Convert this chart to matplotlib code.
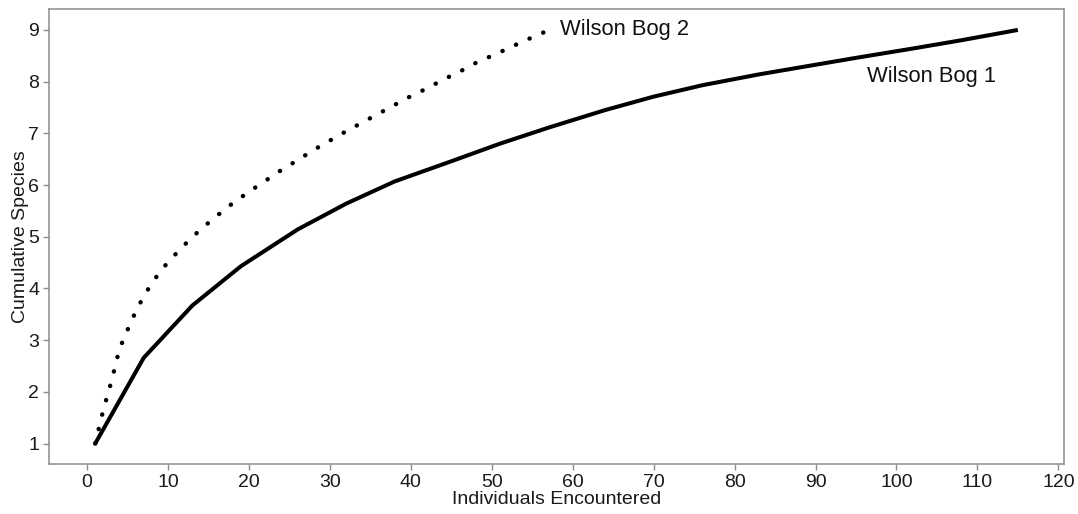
import matplotlib.pyplot as plt

plt.rcParams['font.family'] = ['Liberation Sans', 'DejaVu Sans']

# Wilson Bog 1 (solid)
bog1_n = [1, 7, 13, 19, 26, 32, 38, 45, 51, 57, 64, 70, 76, 83, 89, 95, 102, 108, 115]
bog1_s = [1.0, 2.66, 3.67, 4.43, 5.14, 5.64, 6.07, 6.46, 6.80, 7.11, 7.45, 7.71,
          7.93, 8.14, 8.30, 8.46, 8.64, 8.80, 9.0]

# Wilson Bog 2 (dotted)
bog2_n = [1, 2, 3, 4, 5, 6, 7, 8, 9, 10, 12, 14, 16, 18, 20, 22, 24, 26, 28, 30,
          32, 34, 36, 38, 40, 42, 44, 46, 48, 50, 52, 54, 56, 57]
bog2_s = [1.0, 1.65, 2.2, 2.83, 3.2, 3.55, 3.85, 4.1, 4.32, 4.51, 4.84, 5.14, 5.40,
          5.65, 5.87, 6.08, 6.29, 6.48, 6.68, 6.86, 7.04, 7.21, 7.38, 7.55, 7.72,
          7.87, 8.04, 8.19, 8.36, 8.50, 8.64, 8.79, 8.92, 9.0]

labels = ["Wilson Bog 1", "Wilson Bog 2"]

fig = plt.figure(figsize=(10.78, 5.14), dpi=100)
ax = fig.add_axes([0.0455, 0.0967, 0.9415, 0.8853])

ax.plot(bog1_n, bog1_s, color='black', lw=2.9, solid_capstyle='butt')
ax.plot(bog2_n, bog2_s, color='black', lw=3.2,
        linestyle=(0, (0.05, 3.3)), dash_capstyle='round')

ax.text(96.3, 8.10, labels[0], fontsize=15.8, va='center', ha='left', color='#111111')
ax.text(58.4, 9.0, labels[1], fontsize=15.8, va='center', ha='left', color='#111111')

ax.set_xlim(-4.7, 120.7)
ax.set_ylim(0.6, 9.4)
ax.set_xticks(range(0, 121, 10))
ax.set_yticks(range(1, 10))

for s in ax.spines.values():
    s.set_color('#8c8c8c')
    s.set_linewidth(1.1)
ax.tick_params(colors='#8c8c8c', length=4, width=1, labelsize=14, labelcolor='#1a1a1a', pad=3)

ax.set_xlabel("Individuals Encountered", fontsize=14, color='#1a1a1a', labelpad=0)
ax.set_ylabel("Cumulative Species", fontsize=14, color='#1a1a1a', labelpad=-0.5)

fig.savefig("out.png", dpi=100)
